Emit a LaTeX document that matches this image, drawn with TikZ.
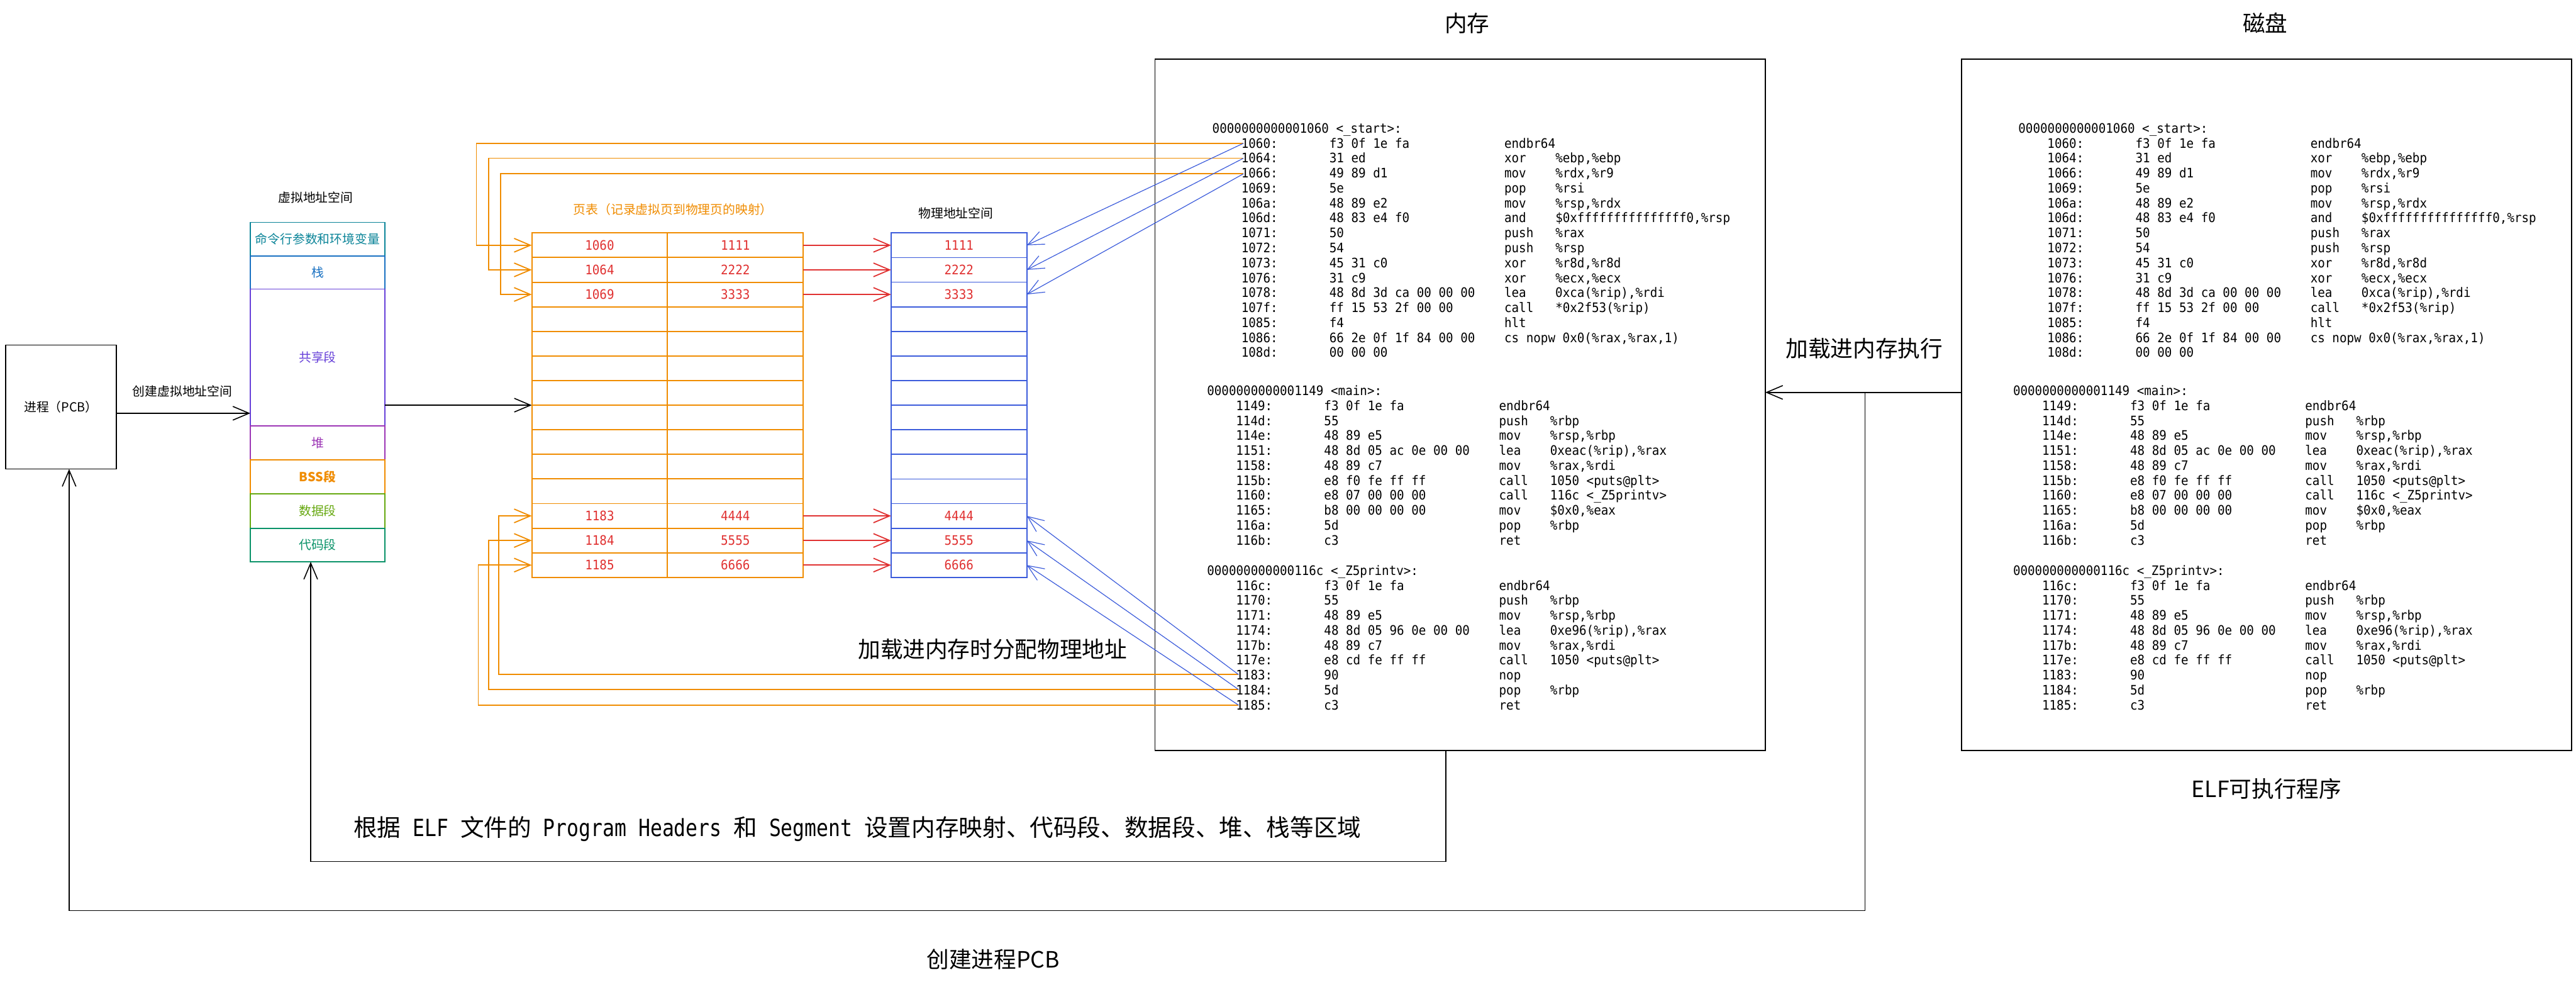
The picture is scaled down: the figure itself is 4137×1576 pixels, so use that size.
\documentclass[tikz,border=0pt]{standalone}
\usepackage{fontspec}
\setmainfont{Noto Sans CJK SC}
\newfontfamily\codefont[FakeStretch=0.925]{DejaVu Sans Mono}
\newfontfamily\elfmono[FakeStretch=0.835]{DejaVu Sans Mono}
\usetikzlibrary{arrows.meta}
\definecolor{orng}{HTML}{F08C00}
\definecolor{redc}{HTML}{E03131}
\definecolor{bluec}{HTML}{3B5BDB}
\definecolor{cmdc}{HTML}{0C8599}
\definecolor{stackc}{HTML}{1971C2}
\definecolor{sharec}{HTML}{6741D9}
\definecolor{heapc}{HTML}{9C36B5}
\definecolor{bssc}{HTML}{F08C00}
\definecolor{datac}{HTML}{66A80F}
\definecolor{codec}{HTML}{099268}
\tikzset{
  tip/.style={-{Straight Barb[length=13pt,width=11pt]}},
  arr/.style={tip, line width=0.8pt, draw=black},
  orangewire/.style={tip, line width=0.9pt, draw=orng},
  redarr/.style={tip, line width=0.9pt, draw=redc},
  bluearr/.style={tip, line width=0.6pt, draw=bluec},
  small/.style={font=\fontsize{10}{12}\selectfont},
  big/.style={font=\fontsize{18}{22}\selectfont},
  blackbox/.style={draw, line width=0.8pt, inner sep=0pt, outer sep=0pt},
  seg/.style={draw=#1, text=#1, line width=0.9pt, minimum width=108pt, inner sep=0pt, outer sep=0pt, font=\fontsize{10}{12}\selectfont},
  ptcell/.style={draw=orng, line width=1pt, minimum width=109pt, minimum height=19.75pt, inner sep=0pt, outer sep=0pt},
  phcell/.style={draw=bluec, line width=0.9pt, minimum width=109pt, minimum height=19.75pt, inner sep=0pt, outer sep=0pt},
  num/.style={text=redc, font=\codefont\fontsize{10.5}{12}\selectfont},
  asm/.style={anchor=north west, inner sep=0pt, outer sep=0pt, font=\codefont\fontsize{10.5}{12}\selectfont},
}
\newcommand\usc{\symbol{95}}
\newcommand\asmA{%
\begin{tabular}{@{}p{23.25pt}@{}p{70.75pt}@{}p{140.5pt}@{}p{41pt}@{}l@{}}
\multicolumn{5}{@{}l@{}}{0000000000001060 <\usc start>:}\\
&1060:&f3 0f 1e fa&endbr64&\\
&1064:&31 ed&xor&\%ebp,\%ebp\\
&1066:&49 89 d1&mov&\%rdx,\%r9\\
&1069:&5e&pop&\%rsi\\
&106a:&48 89 e2&mov&\%rsp,\%rdx\\
&106d:&48 83 e4 f0&and&\$0xfffffffffffffff0,\%rsp\\
&1071:&50&push&\%rax\\
&1072:&54&push&\%rsp\\
&1073:&45 31 c0&xor&\%r8d,\%r8d\\
&1076:&31 c9&xor&\%ecx,\%ecx\\
&1078:&48 8d 3d ca 00 00 00&lea&0xca(\%rip),\%rdi\\
&107f:&ff 15 53 2f 00 00&call&*0x2f53(\%rip)\\
&1085:&f4&hlt&\\
&1086:&66 2e 0f 1f 84 00 00&\multicolumn{2}{@{}l@{}}{cs nopw 0x0(\%rax,\%rax,1)}\\
&108d:&00 00 00&&
\end{tabular}}
\newcommand\asmB{%
\begin{tabular}{@{}p{23.25pt}@{}p{70.75pt}@{}p{140.5pt}@{}p{41pt}@{}l@{}}
\multicolumn{5}{@{}l@{}}{0000000000001149 <main>:}\\
&1149:&f3 0f 1e fa&endbr64&\\
&114d:&55&push&\%rbp\\
&114e:&48 89 e5&mov&\%rsp,\%rbp\\
&1151:&48 8d 05 ac 0e 00 00&lea&0xeac(\%rip),\%rax\\
&1158:&48 89 c7&mov&\%rax,\%rdi\\
&115b:&e8 f0 fe ff ff&call&1050 <puts@plt>\\
&1160:&e8 07 00 00 00&call&116c <\usc Z5printv>\\
&1165:&b8 00 00 00 00&mov&\$0x0,\%eax\\
&116a:&5d&pop&\%rbp\\
&116b:&c3&ret&
\end{tabular}}
\newcommand\asmC{%
\begin{tabular}{@{}p{23.25pt}@{}p{70.75pt}@{}p{140.5pt}@{}p{41pt}@{}l@{}}
\multicolumn{5}{@{}l@{}}{000000000000116c <\usc Z5printv>:}\\
&116c:&f3 0f 1e fa&endbr64&\\
&1170:&55&push&\%rbp\\
&1171:&48 89 e5&mov&\%rsp,\%rbp\\
&1174:&48 8d 05 96 0e 00 00&lea&0xe96(\%rip),\%rax\\
&117b:&48 89 c7&mov&\%rax,\%rdi\\
&117e:&e8 cd fe ff ff&call&1050 <puts@plt>\\
&1183:&90&nop&\\
&1184:&5d&pop&\%rbp\\
&1185:&c3&ret&
\end{tabular}}
\begin{document}
\begin{tikzpicture}[x=0.5pt,y=-0.5pt]
\fill[white] (0,0) rectangle (4137,1576);
\useasboundingbox (0,0) rectangle (4137,1576);

% process
\node[blackbox, minimum width=89pt, minimum height=99.5pt, small] (pcb) at (98,653.5) {进程（PCB）};
\node[small] (lblcreatevas) at (293,628) {创建虚拟地址空间};

% virtual address space
\node[small] (vastitle) at (507,317) {虚拟地址空间};
\node[seg=cmdc, minimum height=27pt] (argv) at (510,384) {命令行参数和环境变量};
\node[seg=stackc, minimum height=26.5pt] (stack) at (510,437.5) {栈};
\node[seg=sharec, minimum height=110pt] (shared) at (510,574) {共享段};
\node[seg=heapc, minimum height=27pt] (heap) at (510,711) {堆};
\node[seg=bssc, minimum height=27.5pt] (bss) at (510,765.5) {\bfseries BSS段};
\node[seg=datac, minimum height=27.5pt] (data) at (510,820.5) {数据段};
\node[seg=codec, minimum height=27pt] (codeseg) at (510,875) {代码段};

% page table and physical space
\node[small, text=orng] (pttitle) at (1081,336) {页表（记录虚拟页到物理页的映射）};
\node[small] (phtitle) at (1535,342) {物理地址空间};
\foreach \i in {1,...,14} {
  \pgfmathsetmacro\cy{374+39.5*(\i-0.5)}
  \node[ptcell] (ptl\i) at (963,\cy) {};
  \node[ptcell] (ptr\i) at (1181,\cy) {};
  \node[phcell] (ph\i) at (1540,\cy) {};
}
\node[num] (v1) at (ptl1) {1060};
\node[num] (v2) at (ptl2) {1064};
\node[num] (v3) at (ptl3) {1069};
\node[num] (v12) at (ptl12) {1183};
\node[num] (v13) at (ptl13) {1184};
\node[num] (v14) at (ptl14) {1185};
\node[num] (p1) at (ptr1) {1111};
\node[num] (p2) at (ptr2) {2222};
\node[num] (p3) at (ptr3) {3333};
\node[num] (p12) at (ptr12) {4444};
\node[num] (p13) at (ptr13) {5555};
\node[num] (p14) at (ptr14) {6666};
\node[num] (q1) at (ph1) {1111};
\node[num] (q2) at (ph2) {2222};
\node[num] (q3) at (ph3) {3333};
\node[num] (q12) at (ph12) {4444};
\node[num] (q13) at (ph13) {5555};
\node[num] (q14) at (ph14) {6666};

% memory and disk
\node[blackbox, minimum width=490pt, minimum height=555pt] (mem) at (2345,650) {};
\node[blackbox, minimum width=490pt, minimum height=555pt] (disk) at (3640,650) {};
\node[big] (memtitle) at (2356,37) {内存};
\node[big] (disktitle) at (3638,37) {磁盘};
\node[big] (elftitle) at (3640,1266) {ELF可执行程序};

\node[asm] (memA) at (1947,196.7) {\asmA};
\node[asm] (memB) at (1938.5,618) {\asmB};
\node[asm] (memC) at (1938.5,906.7) {\asmC};
\node[asm] (diskA) at (3241.5,196.7) {\asmA};
\node[asm] (diskB) at (3233,618) {\asmB};
\node[asm] (diskC) at (3233,906.7) {\asmC};

% code-line anchors
\coordinate (m1060) at (1997,230);
\coordinate (m1064) at (1997,254);
\coordinate (m1066) at (1997,279);
\coordinate (m1183) at (1989,1083);
\coordinate (m1184) at (1989,1107);
\coordinate (m1185) at (1989,1132);
\coordinate (laneA) at (765,0);
\coordinate (laneB) at (785,0);
\coordinate (laneC) at (804,0);
\coordinate (laneD) at (801,0);
\coordinate (laneE) at (785,0);
\coordinate (laneF) at (768,0);

% orange wires: code lines -> page table
\draw[orangewire] (m1060) -- (m1060 -| laneA) |- (ptl1.west);
\draw[orangewire] (m1064) -- (m1064 -| laneB) |- (ptl2.west);
\draw[orangewire] (m1066) -- (m1066 -| laneC) |- (ptl3.west);
\draw[orangewire] (m1183) -- (m1183 -| laneD) |- (ptl12.west);
\draw[orangewire] (m1184) -- (m1184 -| laneE) |- (ptl13.west);
\draw[orangewire] (m1185) -- (m1185 -| laneF) |- (ptl14.west);

% red: page table -> physical
\foreach \i in {1,2,3,12,13,14} {
  \draw[redarr] (ptr\i.east) -- (ph\i.west);
}

% blue: code lines -> physical
\draw[bluearr] (m1060) -- (ph1.east);
\draw[bluearr] (m1064) -- (ph2.east);
\draw[bluearr] (m1066) -- (ph3.east);
\draw[bluearr] (m1183) -- (ph12.east);
\draw[bluearr] (m1184) -- (ph13.east);
\draw[bluearr] (m1185) -- (ph14.east);

% black connectors
\draw[arr] ([yshift=-5pt]pcb.east) -- ([yshift=-5pt]pcb.east -| shared.west);
\draw[arr] (shared.east |- ptl8.north west) -- (ptl8.north west);
\coordinate (loadY) at (0,630);
\draw[arr] (disk.west |- loadY) -- (mem.east |- loadY);
\node[big] (lblload) at (2994,560) {加载进内存执行};
\coordinate (pcbTurn) at (2995,1462);
\draw[arr] (pcbTurn |- loadY) -- (pcbTurn) -| ([xshift=6.5pt]pcb.south);
\node[big] (lblpcb) at (1595,1540) {创建进程PCB};
\coordinate (mapY) at (0,1383);
\draw[arr] ([xshift=-11.5pt]mem.south) -- ([xshift=-11.5pt]mem.south |- mapY) -| ([xshift=-5.5pt]codeseg.south);
\node[font=\fontsize{19}{23}\selectfont] (lblmap) at (1377,1331) {根据{\elfmono\ ELF }文件的{\elfmono\ Program Headers }和{\elfmono\ Segment }设置内存映射、代码段、数据段、堆、栈等区域};
\node[big] (lblphys) at (1594,1042) {加载进内存时分配物理地址};
\end{tikzpicture}
\end{document}
